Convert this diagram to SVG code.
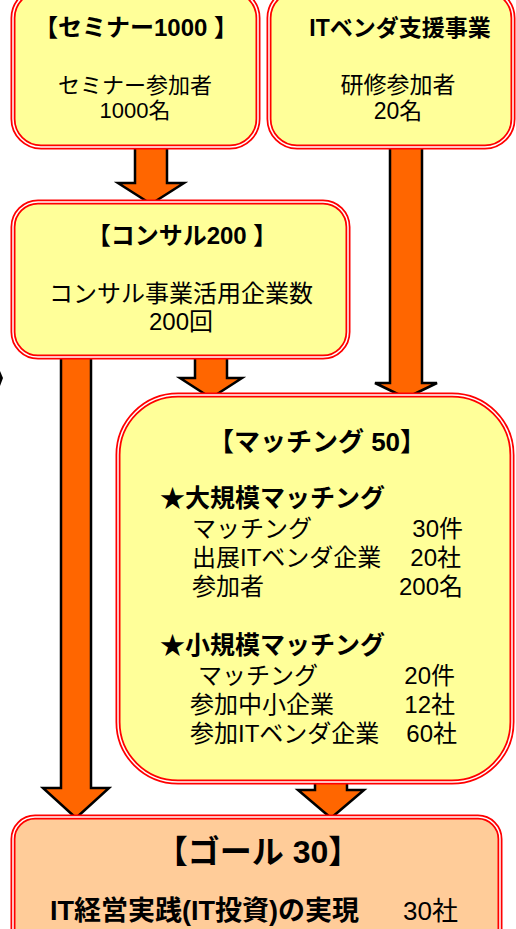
<svg xmlns="http://www.w3.org/2000/svg" width="516" height="929" viewBox="0 0 516 929">
<style>
.box{stroke:#FF0000;stroke-width:5}
.gap{fill:none;stroke:#FFFFFF;stroke-width:1.5}
.y{fill:#FFFF99}
.p{fill:#FFCC99}
.arr{fill:#FF6600;stroke:#000000;stroke-width:2.5;stroke-linejoin:miter}
text{font-family:"Liberation Sans","Noto Sans CJK JP",sans-serif;fill:#000000}
.t{font-weight:bold}
.c{text-anchor:middle}
.e{text-anchor:end}
</style>
<rect width="516" height="929" fill="#FFFFFF"/>
<g id="connectors">
<polygon class="arr" points="135,140 167,140 167,183 184,183 151,204 118,183 135,183"/>
<polygon class="arr" points="390,140 422,140 422,383 437,383 406,398 375,383 390,383"/>
<polygon class="arr" points="61,350 91,350 91,788 109,788 76,818 43,788 61,788"/>
<polygon class="arr" points="195,350 227,350 227,378 242,378 211,398 180,378 195,378"/>
<polygon class="arr" points="315,775 347,775 347,790 364,790 331,818 298,790 315,790"/>
</g>
<path d="M0,371 L3,378 L0,386 Z" fill="#000000"/>
<g id="seminar">
<rect class="box y" x="13" y="-10" width="245" height="157" rx="28"/>
<rect class="gap" x="13" y="-10" width="245" height="157" rx="28"/>
<text class="t c" x="136" y="36" font-size="24">【セミナー1000 】</text>
<text class="c" font-size="22"><tspan x="135" y="93">セミナー参加者</tspan><tspan x="135" y="118">1000名</tspan></text>
</g>
<g id="itvendor">
<rect class="box y" x="269" y="-10" width="244" height="157" rx="28"/>
<rect class="gap" x="269" y="-10" width="244" height="157" rx="28"/>
<text class="t c" x="400" y="36" font-size="23">ITベンダ支援事業</text>
<text class="c" font-size="23"><tspan x="398" y="93">研修参加者</tspan><tspan x="398" y="119">20名</tspan></text>
</g>
<g id="consul">
<rect class="box y" x="13" y="202" width="335" height="155" rx="25"/>
<rect class="gap" x="13" y="202" width="335" height="155" rx="25"/>
<text class="t c" x="182" y="244" font-size="24">【コンサル200 】</text>
<text class="c" font-size="24"><tspan x="181" y="302">コンサル事業活用企業数</tspan><tspan x="181" y="330">200回</tspan></text>
</g>
<g id="matching">
<rect class="box y" x="118" y="395" width="394" height="387" rx="60"/>
<rect class="gap" x="118" y="395" width="394" height="387" rx="60"/>
<text class="t c" x="317" y="451" font-size="26">【マッチング 50】</text>
<text class="t" x="160" y="507" font-size="25">★大規模マッチング</text>
<text font-size="24"><tspan x="192" y="537">マッチング</tspan><tspan x="192" y="566">出展ITベンダ企業</tspan><tspan x="192" y="595">参加者</tspan></text>
<text class="e" font-size="24"><tspan x="463" y="537">30件</tspan><tspan x="461" y="566">20社</tspan><tspan x="463" y="595">200名</tspan></text>
<text class="t" x="160" y="654" font-size="25">★小規模マッチング</text>
<text font-size="24"><tspan x="198" y="684">マッチング</tspan><tspan x="190" y="713">参加中小企業</tspan><tspan x="190" y="742">参加ITベンダ企業</tspan></text>
<text class="e" font-size="24"><tspan x="455" y="684">20件</tspan><tspan x="455" y="713">12社</tspan><tspan x="457" y="742">60社</tspan></text>
</g>
<g id="goal">
<rect class="box p" x="13" y="817" width="487" height="140" rx="22"/>
<rect class="gap" x="13" y="817" width="487" height="140" rx="22"/>
<text class="t c" x="258" y="863" font-size="32">【ゴール 30】</text>
<text class="t" x="50" y="920" font-size="27">IT経営実践(IT投資)の実現</text>
<text x="403" y="920" font-size="26">30社</text>
</g>
</svg>
